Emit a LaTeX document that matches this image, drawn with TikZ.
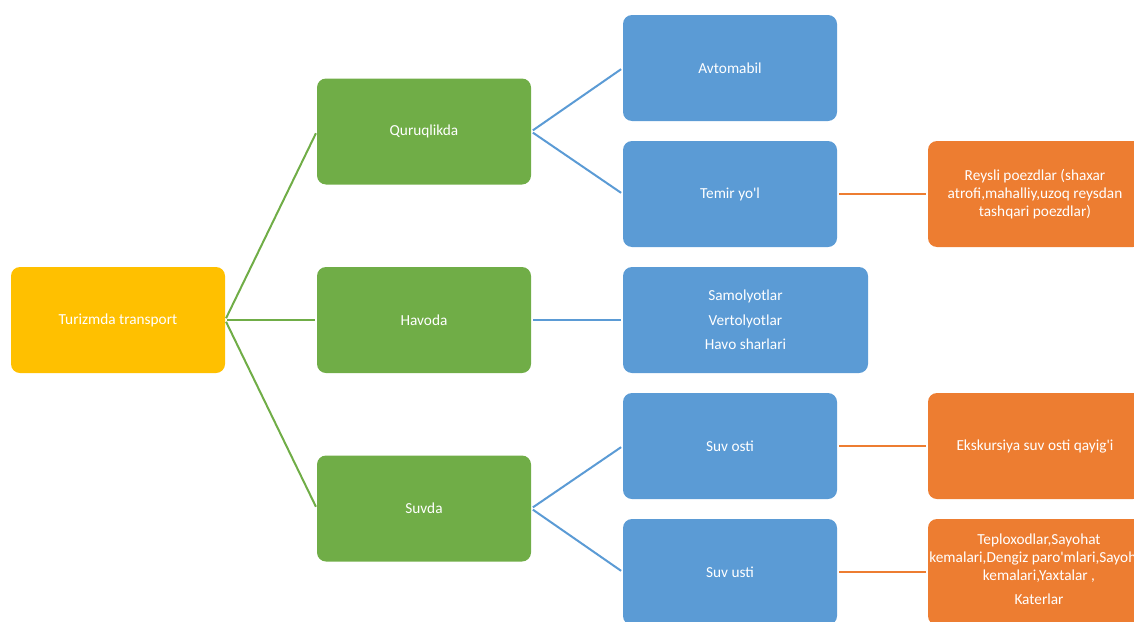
\documentclass[tikz,border=0pt]{standalone}
\usepackage{fontspec}
\setmainfont{Carlito}[Ligatures=TeXOff]
\definecolor{cyel}{HTML}{FFC000}
\definecolor{cgrn}{HTML}{70AD47}
\definecolor{cblu}{HTML}{5B9BD5}
\definecolor{corg}{HTML}{ED7D31}
\tikzset{
  boxbase/.style={rounded corners=9pt, minimum height=106pt, text=white,
    font=\fontsize{15.3}{18}\selectfont, align=center, inner sep=2pt},
  ybox/.style={boxbase, fill=cyel, minimum width=214pt},
  gbox/.style={boxbase, fill=cgrn, minimum width=214pt},
  bbox/.style={boxbase, fill=cblu, minimum width=214pt},
  obox/.style={boxbase, fill=corg, minimum width=214pt},
  btext/.style={text=white, font=\fontsize{15.3}{18}\selectfont, align=center, inner sep=0pt},
  gline/.style={cgrn, line width=2pt, shorten <=2pt, shorten >=2pt},
  bline/.style={cblu, line width=2pt, shorten <=2pt, shorten >=2pt},
  oline/.style={corg, line width=2pt, shorten <=2pt, shorten >=2pt},
}
\begin{document}
\begin{tikzpicture}[x=1pt,y=-1pt]
\useasboundingbox (0,0) rectangle (1134,621);
\clip (0,0) rectangle (1134,621);
\node[ybox] (root) at (118,320) {Turizmda transport};
\node[gbox] (q) at (424,131.5) {Quruqlikda};
\node[gbox] (h) at (424,320) {Havoda};
\node[gbox] (s) at (424,508.5) {Suvda};
\node[bbox] (avt) at (730,68) {Avtomabil};
\node[bbox] (tem) at (730,194) {Temir yo'l};
\node[bbox, minimum width=245pt] (sam) at (745.5,320) {Samolyotlar\\[6.5pt]Vertolyotlar\\[6.5pt]Havo sharlari};
\node[bbox] (sosti) at (730,446) {Suv osti};
\node[bbox] (susti) at (730,572) {Suv usti};
\node[obox] (rey) at (1035,194) {Reysli poezdlar (shaxar\\atrofi,mahalliy,uzoq reysdan\\tashqari poezdlar)};
\node[obox] (eks) at (1035,446) {Ekskursiya suv osti qayig'i};
\node[obox] (tep) at (1035,572) {};
\node[btext] (teptext) at (1039,569) {Teploxodlar,Sayohat\\kemalari,Dengiz paro'mlari,Sayohat\\kemalari,Yaxtalar ,\\[6pt]Katerlar};
\draw[gline] (root.east) -- (q.west);
\draw[gline] (root.east) -- (h.west);
\draw[gline] (root.east) -- (s.west);
\draw[bline] (q.east) -- (avt.west);
\draw[bline] (q.east) -- (tem.west);
\draw[bline] (h.east) -- (sam.west);
\draw[bline] (s.east) -- (sosti.west);
\draw[bline] (s.east) -- (susti.west);
\draw[oline] (tem.east) -- (rey.west);
\draw[oline] (sosti.east) -- (eks.west);
\draw[oline] (susti.east) -- (tep.west);
\end{tikzpicture}
\end{document}
